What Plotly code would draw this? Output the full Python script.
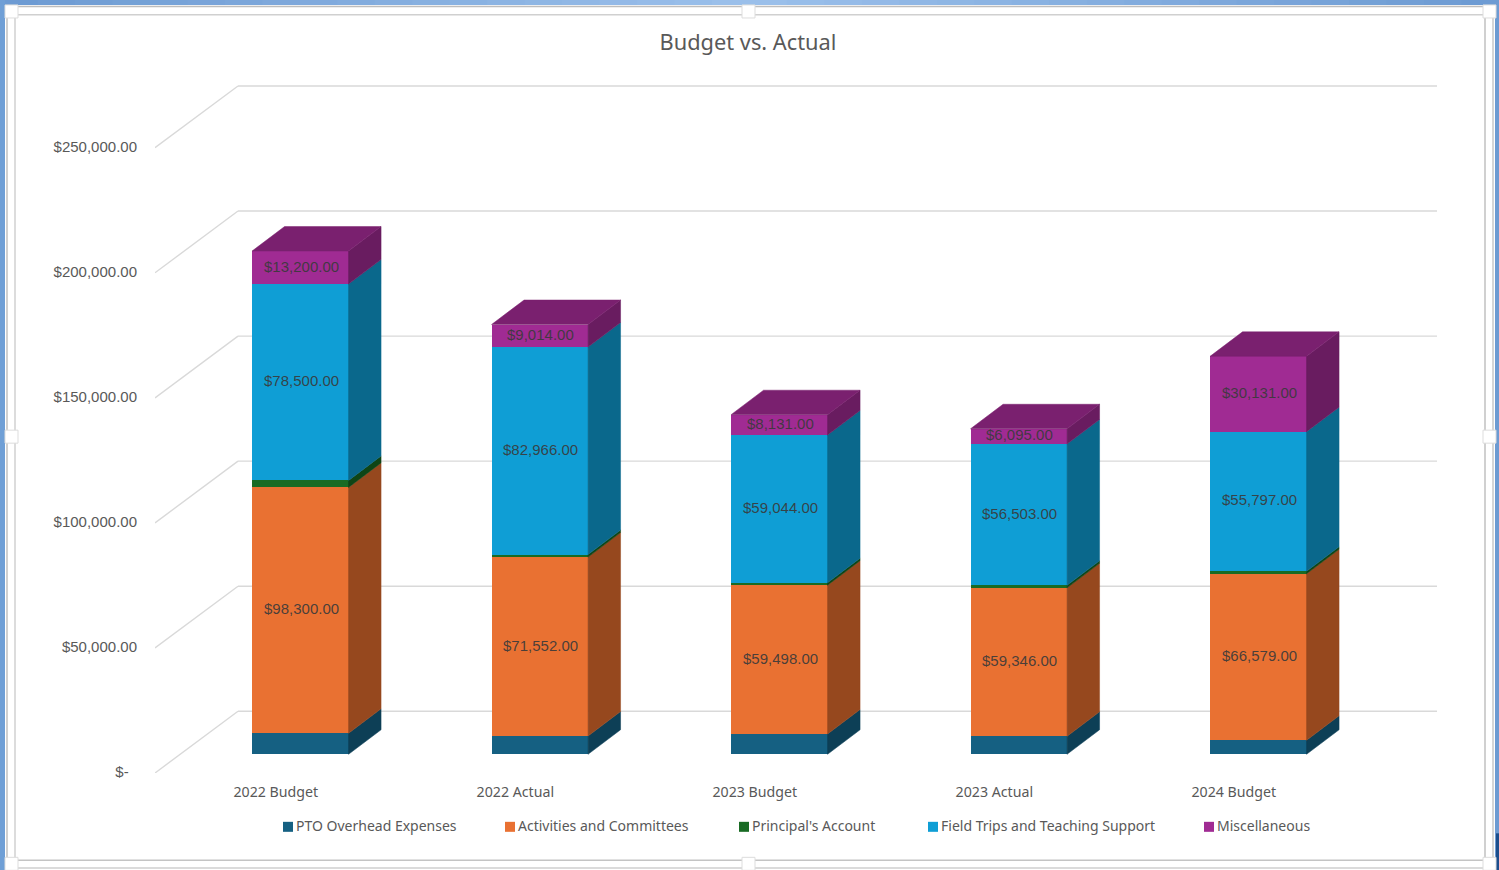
import plotly.graph_objects as go

# ---- data -------------------------------------------------------------
categories = ["2022 Budget", "2022 Actual", "2023 Budget", "2023 Actual", "2024 Budget"]
series_names = ["PTO Overhead Expenses", "Activities and Committees", "Principal's Account",
                "Field Trips and Teaching Support", "Miscellaneous"]
pto_overhead = [8400, 7300, 8100, 7200, 5600]
activities = [98300, 71552, 59498, 59346, 66579]
principal = [2800, 1000, 1000, 1000, 1000]
field_trips = [78500, 82966, 59044, 56503, 55797]
miscellaneous = [13200, 9014, 8131, 6095, 30131]
axis_values = [0, 50000, 100000, 150000, 200000, 250000]
axis_labels = ["$-\u00a0\u00a0", "$50,000.00", "$100,000.00", "$150,000.00", "$200,000.00", "$250,000.00"]
labelled = [False, True, False, True, True]

all_series = [pto_overhead, activities, principal, field_trips, miscellaneous]

# ---- styles -----------------------------------------------------------
front_colors = ["#156082", "#E97132", "#196B24", "#0F9ED5", "#A02B93"]
side_colors = ["#0D3F56", "#96481E", "#0F4516", "#0A688C", "#691C60"]
top_color = "#7A206F"
W, H = 1499, 870
L, R, T, B = 155, 1437, 80, 772.7
PX_PER_USD = 0.0025
ZERO_PX = 754
SPACING = 239.5
BAR_W = 96.5 / SPACING
DX = 32.5 / SPACING
DY = 24.5 / PX_PER_USD
WALL_DX = 83 / SPACING
WALL_BACK = (ZERO_PX - 711) / PX_PER_USD
WALL_FRONT = (ZERO_PX - B) / PX_PER_USD
X0_PX = 300.3
TEXT_FONT = "Liberation Sans, Arial, sans-serif"
CAT_FONT = "Noto Sans, sans-serif"

def px_x(p):
    return (p - L) / (R - L)

def px_y(p):
    return 1 - (p - T) / (B - T)

x_range = [(L - X0_PX) / SPACING, (R - X0_PX) / SPACING]
y_range = [WALL_FRONT, (ZERO_PX - T) / PX_PER_USD]
xs = list(range(len(categories)))

fig = go.Figure()
annotations = []

# Front faces: real stacked bars
for s, (name, vals) in enumerate(zip(series_names, all_series)):
    fig.add_trace(go.Bar(
        x=xs, y=vals, name=name, width=BAR_W, marker=dict(color=front_colors[s], line=dict(width=0)),
        showlegend=False,
    ))

# Side and top faces and data labels, derived from the same values
totals = [0] * len(categories)
for s, vals in enumerate(all_series):
    for i, v in enumerate(vals):
        lo, hi = totals[i], totals[i] + v
        xr = i + BAR_W / 2
        fig.add_trace(go.Scatter(
            x=[xr, xr + DX, xr + DX, xr, xr], y=[lo, lo + DY, hi + DY, hi, lo],
            mode="lines", fill="toself", fillcolor=side_colors[s],
            line=dict(width=0.5, color=side_colors[s]),
            hoverinfo="skip", showlegend=False))
        if labelled[s]:
            annotations.append(dict(xref="x", yref="y", x=i, y=(lo + hi) / 2, text=f"${v:,.2f}",
                                    showarrow=False, xshift=1.0, yshift=1.5, xanchor="center", yanchor="middle",
                                    font=dict(family=TEXT_FONT, size=15, color="rgba(58,58,58,0.92)")))
        totals[i] = hi
for i, t in enumerate(totals):
    xl, xr = i - BAR_W / 2, i + BAR_W / 2
    fig.add_trace(go.Scatter(
        x=[xl, xl + DX, xr + DX, xr, xl], y=[t, t + DY, t + DY, t, t],
        mode="lines", fill="toself", fillcolor=top_color, line=dict(width=0.5, color=top_color),
        hoverinfo="skip", showlegend=False))

shapes = []
# Wall and floor gridlines
for v in axis_values:
    shapes.append(dict(type="line", xref="x", yref="y", layer="below",
                       x0=x_range[0], y0=v + WALL_FRONT, x1=x_range[0] + WALL_DX, y1=v + WALL_BACK,
                       line=dict(color="#D9D9D9", width=1.4)))
    shapes.append(dict(type="line", xref="x", yref="y", layer="below",
                       x0=x_range[0] + WALL_DX, y0=v + WALL_BACK, x1=x_range[1], y1=v + WALL_BACK,
                       line=dict(color="#D9D9D9", width=1.4)))

def rect(x0, y0, x1, y1, fill, line=None, layer="above"):
    shapes.append(dict(type="rect", xref="paper", yref="paper", layer=layer,
                       x0=px_x(x0), x1=px_x(x1), y0=px_y(y0), y1=px_y(y1), fillcolor=fill,
                       line=dict(width=1 if line else 0, color=line or "rgba(0,0,0,0)")))

def hline(y, x0, x1, c):
    shapes.append(dict(type="line", xref="paper", yref="paper", x0=px_x(x0), x1=px_x(x1),
                       y0=px_y(y), y1=px_y(y), line=dict(color=c, width=1.5)))

def vline(x, y0, y1, c):
    shapes.append(dict(type="line", xref="paper", yref="paper", x0=px_x(x), x1=px_x(x),
                       y0=px_y(y0), y1=px_y(y1), line=dict(color=c, width=1.5)))

# Window surround
def mix(a, b, t):
    return "rgb(%d,%d,%d)" % tuple(round(a[k] + (b[k] - a[k]) * t) for k in range(3))

edge, mid = (108, 154, 210), (155, 192, 235)
n = 40
for k in range(n):
    t = 1 - abs(2 * (k + 0.5) / n - 1)
    rect(k * W / n, 0, (k + 1) * W / n + 1, 5, mix(edge, mid, t))
rect(0, 0, 5, H, "#6F9FD6")
rect(1495, 0, W, H, "#6D9BD2")
rect(1496, 833, W, H, "#1C4E8C")
hline(6.5, 5, 1495, "#BDBDBD")
hline(14.7, 15, 1485, "#D0D0D0")
hline(860, 15, 1485, "#C4C4C4")
hline(867.7, 5, 1495, "#CFCFCF")
vline(7, 6, 868, "#C0C0C0")
vline(15, 14.7, 860, "#D0D0D0")
vline(1485, 14.7, 860, "#C0C0C0")
vline(1493, 6, 868, "#C8C8C8")
for hx, hy in [(5, 5), (742, 5), (1483, 5), (5, 430), (1483, 430), (5, 857), (742, 857), (1483, 857)]:
    rect(hx, hy, hx + 13, hy + 13, "#FFFFFF", "#DDDDDD")

# Legend drawn to match the reference's tight swatch spacing
legend_x = [283, 505, 739, 928, 1204]
for s, name in enumerate(series_names):
    rect(legend_x[s], 821.5, legend_x[s] + 10, 831.5, front_colors[s])
    annotations.append(dict(xref="paper", yref="paper", x=px_x(legend_x[s] + 11), y=px_y(825.5),
                            xanchor="left", yanchor="middle", showarrow=False, text=name,
                            font=dict(family=CAT_FONT, size=14, color="#595959")))

fig.update_layout(
    width=W, height=H, autosize=False, barmode="stack", bargap=0,
    margin=dict(l=L, r=W - R, t=T, b=H - B, pad=0),
    paper_bgcolor="#FFFFFF", plot_bgcolor="rgba(0,0,0,0)", showlegend=False,
    title=dict(text="Budget vs. Actual", x=748 / W, xanchor="center", xref="container",
               y=1 - 42 / H, yanchor="middle", yref="container",
               font=dict(family=CAT_FONT, size=21.8, color="#595959")),
    xaxis=dict(range=x_range, tickmode="array", tickvals=[x - 24.5 / SPACING for x in xs], ticktext=categories,
               showgrid=False, zeroline=False, showline=False, ticks="", ticklabelstandoff=9,
               tickfont=dict(family=CAT_FONT, size=14.2, color="#595959")),
    yaxis=dict(range=y_range, tickmode="array", tickvals=[v + WALL_FRONT + 500 for v in axis_values],
               ticktext=axis_labels, showgrid=False, zeroline=False, showline=False, ticks="",
               ticklabelstandoff=17, tickfont=dict(family=TEXT_FONT, size=15, color="#595959")),
    shapes=shapes, annotations=annotations,
)

fig.write_html("out.html", config={"displayModeBar": False},
               post_script="document.body.style.margin='0';document.body.style.overflow='hidden';")
